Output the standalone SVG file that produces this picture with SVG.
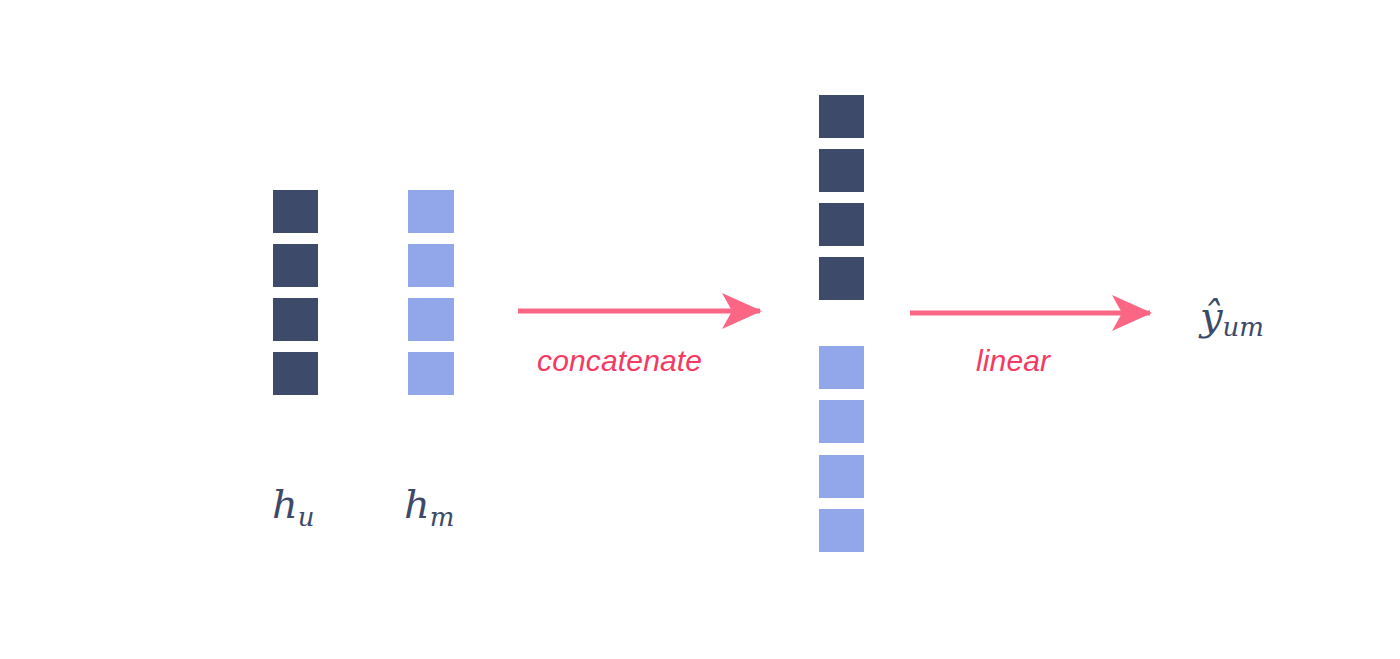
<svg xmlns="http://www.w3.org/2000/svg" width="1400" height="659" viewBox="0 0 1400 659">
<style>
.d{fill:#3d4a69}.l{fill:#91a7ea}
.m{font-family:"DejaVu Serif","Liberation Serif",serif;font-style:italic;fill:#3d4a69}
.t{font-family:"Liberation Sans",sans-serif;font-style:italic;fill:#f43a62;font-size:30px}
.a{stroke:#fb6684;stroke-width:5;fill:none}
</style>
<defs><marker id="ah" markerUnits="userSpaceOnUse" markerWidth="40" markerHeight="40" refX="38" refY="20" orient="auto"><path d="M0,2 L40,20 L0,38 L10,20 Z" fill="#fb6684"/></marker></defs>
<rect width="1400" height="659" fill="#fff"/>
<g id="hu"><rect class="d" x="273" y="190" width="45" height="43"/><rect class="d" x="273" y="244" width="45" height="43"/><rect class="d" x="273" y="298" width="45" height="43"/><rect class="d" x="273" y="352" width="45" height="43"/>
<text class="m" x="272" y="518" font-size="40">h<tspan font-size="26" dy="8">u</tspan></text></g>
<g id="hm"><rect class="l" x="408" y="190" width="46" height="43"/><rect class="l" x="408" y="244" width="46" height="43"/><rect class="l" x="408" y="298" width="46" height="43"/><rect class="l" x="408" y="352" width="46" height="43"/>
<text class="m" x="404" y="518" font-size="40">h<tspan font-size="26" dy="8">m</tspan></text></g>
<g id="concat"><rect class="d" x="819" y="95" width="45" height="43"/><rect class="d" x="819" y="149" width="45" height="43"/><rect class="d" x="819" y="203" width="45" height="43"/><rect class="d" x="819" y="257" width="45" height="43"/>
<rect class="l" x="819" y="346" width="45" height="43"/><rect class="l" x="819" y="400" width="45" height="43"/><rect class="l" x="819" y="455" width="45" height="43"/><rect class="l" x="819" y="509" width="45" height="43"/></g>
<g id="y"><text class="m" x="1200" y="330" font-size="40">ŷ<tspan font-size="26" dy="6">um</tspan></text></g>
<g id="connectors"><line class="a" x1="518" y1="311" x2="760" y2="311" marker-end="url(#ah)"/><line class="a" x1="910" y1="313" x2="1150" y2="313" marker-end="url(#ah)"/>
<text class="t" x="537" y="371" textLength="165">concatenate</text><text class="t" x="976" y="371" textLength="74">linear</text></g>
</svg>
